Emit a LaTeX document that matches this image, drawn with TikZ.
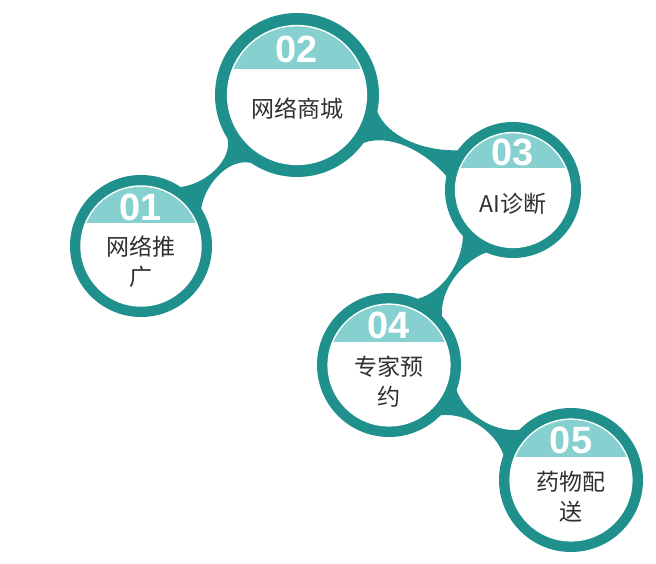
\documentclass[tikz,border=0pt]{standalone}
\usepackage{fontspec}
\setmainfont{Liberation Sans}
\newfontfamily\cjk{Noto Sans CJK SC}
\usetikzlibrary{calc}
\definecolor{ringc}{HTML}{1F908B}
\definecolor{capc}{HTML}{86D1D0}
\definecolor{txtc}{HTML}{303030}
\tikzset{
  numtext/.style={text=white, font=\bfseries\fontsize{38}{38}\selectfont, inner sep=0pt},
  labtext/.style={text=txtc, font=\cjk\fontsize{23}{30}\selectfont, align=center, inner sep=0pt},
  ringfill/.style={fill=ringc},
}
% centre coordinate of a ball
\newcommand\ballcenter[3]{\coordinate (#1) at (#2pt,#3pt);}
% ball: name, radius, number
\newcommand\ballbody[3]{%
  \fill[ringfill] (#1) circle (#2pt);
  \fill[white] (#1) circle ({0.855*#2pt});
  \begin{scope}
    \clip (#1) circle ({0.855*#2pt-1.5pt});
    \fill[capc] ($(#1)+(-#2pt,0.32*#2pt)$) rectangle ($(#1)+(#2pt,#2pt)$);
  \end{scope}
  \node[numtext] (#1n) at ($(#1)+(0,0.55*#2pt)$) {#3};
}
% bridge between two balls: A, B, RA, RB
\newcommand\bridge[4]{%
  \fill[ringfill] let \p1=(#1), \p2=(#2), \n1={atan2(\y2-\y1,\x2-\x1)} in
    ($(#1)+(\n1+12:#3pt)$)
    .. controls ($(#1)!0.42!(#2)+(\n1+90:-1.2pt)$) and ($(#1)!0.58!(#2)+(\n1+90:-1.2pt)$) ..
    ($(#2)+(\n1+168:#4pt)$) -- (#2) --
    ($(#2)+(\n1-168:#4pt)$)
    .. controls ($(#1)!0.58!(#2)+(\n1-90:-1.2pt)$) and ($(#1)!0.42!(#2)+(\n1-90:-1.2pt)$) ..
    ($(#1)+(\n1-12:#3pt)$) -- (#1) -- cycle;
}
\begin{document}
\begin{tikzpicture}
\useasboundingbox (0,0) rectangle (656pt,564pt);
\ballcenter{c1}{141}{318}
\ballcenter{c2}{297}{469}
\ballcenter{c3}{513}{374}
\ballcenter{c4}{389}{199}
\ballcenter{c5}{571}{84}
\bridge{c1}{c2}{71}{82}
\bridge{c2}{c3}{82}{68}
\bridge{c3}{c4}{68}{72}
\bridge{c4}{c5}{72}{72}
\ballbody{c1}{71}{01}
\ballbody{c2}{82}{02}
\ballbody{c3}{68}{03}
\ballbody{c4}{72}{04}
\ballbody{c5}{72}{05}
\node[labtext] (l1) at ($(c1)+(0,-16pt)$) {网络推\\广};
\node[labtext] (l2) at ($(c2)+(0,-14pt)$) {网络商城};
\node[labtext] (l3) at ($(c3)+(0,-14pt)$) {AI诊断};
\node[labtext] (l4) at ($(c4)+(0,-17pt)$) {专家预\\约};
\node[labtext] (l5) at ($(c5)+(0,-17pt)$) {药物配\\送};
\end{tikzpicture}
\end{document}
